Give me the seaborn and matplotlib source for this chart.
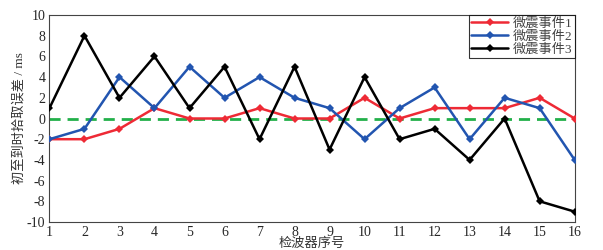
import numpy as np
import matplotlib
matplotlib.use("Agg")
import matplotlib.pyplot as plt
import pandas as pd
import seaborn as sns

sns.set_style("white")
plt.rcParams['font.family'] = ['Liberation Serif', 'Noto Sans CJK SC']
plt.rcParams['axes.unicode_minus'] = False

# 数据
sensor = np.arange(1, 17)
event1 = [-2, -2, -1, 1, 0, 0, 1, 0, 0, 2, 0, 1, 1, 1, 2, 0]
event2 = [-2, -1, 4, 1, 5, 2, 4, 2, 1, -2, 1, 3, -2, 2, 1, -4]
event3 = [1, 8, 2, 6, 1, 5, -2, 5, -3, 4, -2, -1, -4, 0, -8, -9]
names = ["微震事件1", "微震事件2", "微震事件3"]
colors = ["#ee2a35", "#2255b0", "#000000"]

df = pd.DataFrame({"x": np.tile(sensor, 3),
                   "y": event1 + event2 + event3,
                   "event": np.repeat(names, len(sensor))})

fig, ax = plt.subplots(figsize=(6.03, 2.5), dpi=100)
fig.subplots_adjust(left=0.082, right=0.953, top=0.94, bottom=0.112)

ax.axhline(0, color="#22b04a", ls=(0, (4, 2.5)), lw=2, zorder=1)
sns.lineplot(data=df, x="x", y="y", hue="event", palette=colors,
             marker="D", markersize=4, markeredgewidth=0, lw=1.8, ax=ax, zorder=3)

ax.set_xlim(1, 16)
ax.set_ylim(-10, 10)
ax.set_xticks(sensor)
ax.set_yticks(np.arange(-10, 11, 2))
ax.tick_params(direction="in", length=3, labelsize=10, pad=3)
for s in ax.spines.values():
    s.set_color("#444444")
    s.set_linewidth(0.8)
ax.set_xlabel("检波器序号", fontsize=9.5, labelpad=-1, color="#333333")
ax.set_ylabel("初至到时拾取误差 / ms", fontsize=9.5, labelpad=1, color="#333333")

leg = ax.legend(loc="upper right", fontsize=9.5, frameon=True, fancybox=False,
                edgecolor="black", borderaxespad=0, handlelength=2.8,
                borderpad=0.2, labelspacing=0.05, handletextpad=0.3)
leg.get_frame().set_linewidth(0.8)
for t in leg.get_texts():
    t.set_color("#444444")

fig.savefig("out.png", dpi=100)
